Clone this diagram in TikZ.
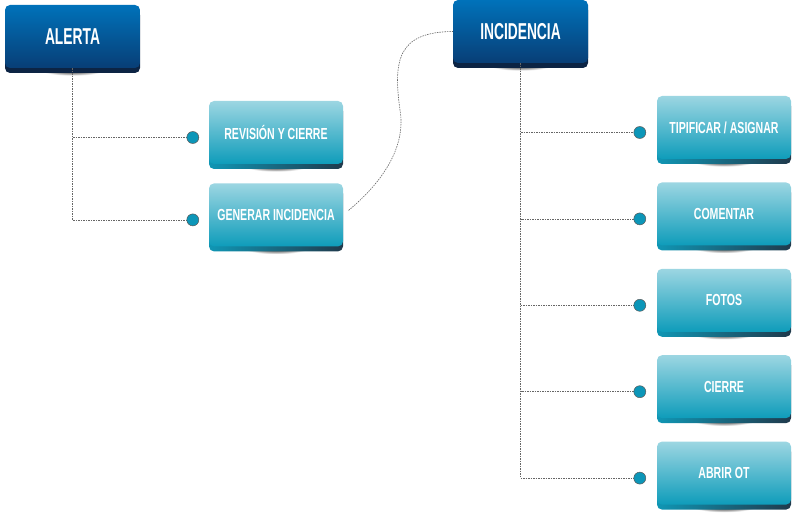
\documentclass[tikz,border=0pt]{standalone}
\usepackage{fontspec}
\newfontfamily\boxfont[FakeStretch=0.66]{Liberation Sans Bold}
\newfontfamily\headfont[FakeStretch=0.6]{Liberation Sans Bold}
\usepackage{tikz}
\usetikzlibrary{positioning,shadows,fadings,calc}

\definecolor{navytop}{RGB}{0,114,186}
\definecolor{navybot}{RGB}{8,62,118}
\definecolor{navylip}{RGB}{12,36,68}
\definecolor{aquatop}{RGB}{156,214,226}
\definecolor{aquabot}{RGB}{14,156,186}
\definecolor{aqualip}{RGB}{16,150,180}
\definecolor{slatelip}{RGB}{32,58,76}
\definecolor{dotfill}{RGB}{12,150,184}

\begin{document}
\begin{tikzpicture}[
				x=1pt, y=-1pt,
				soft/.style={general shadow={fill=black!70, shadow yshift=-12pt, shadow scale=.9, path fading=circle with fuzzy edge 15 percent}},
				topbox/.style={rectangle, rounded corners=5pt, minimum width=135pt, minimum height=63pt, top color=navytop, bottom color=navybot, text=white, font=\headfont\fontsize{23}{23}\selectfont, soft, general shadow={fill=navylip, shadow yshift=-5pt}},
				subbox/.style={rectangle, rounded corners=5pt, minimum width=134pt, minimum height=63pt, top color=aquatop, bottom color=aquabot, text=white, font=\boxfont\fontsize{16}{16}\selectfont, soft, general shadow={left color=aqualip, right color=slatelip, shadow yshift=-5pt}},
				dot/.style={circle, draw=gray!70!black, line width=.5pt, fill=dotfill, minimum size=12pt, inner sep=0pt},
				link/.style={gray!80!black, line width=.6pt, dash pattern=on 1.5pt off 1pt}
				]
				\useasboundingbox (0,0) rectangle (793,516);
				
				\node (alerta) [topbox] at (72.5,36.5) {ALERTA};
				\node (incid) [topbox] at (520.5,31.5) {INCIDENCIA};
				
				\node (revision) [subbox] at (276,132.5) {REVISIÓN Y CIERRE};
				\node (generar) [subbox, below=19pt of revision] {GENERAR INCIDENCIA};
				
				\node (tipificar) [subbox] at (724,127.5) {TIPIFICAR / ASIGNAR};
				\node (comentar) [subbox, below=23pt of tipificar] {COMENTAR};
				\node (fotos) [subbox, below=23pt of comentar] {FOTOS};
				\node (cierre) [subbox, below=23pt of fotos] {CIERRE};
				\node (abrir) [subbox, below=23pt of cierre] {ABRIR OT};
				
				% connectors first, dots on top
				\coordinate (r1) at ($(revision.west)+(-16,5)$);
				\coordinate (r2) at ($(generar.west)+(-16,5)$);
				\draw [link] (alerta.south) |- (r1);
				\draw [link] (alerta.south) |- (r2);
				\draw [link, shorten <=7pt] (generar.east) .. controls (385,180) and (406,145) .. (400,110) .. controls (393,60) and (398,32) .. (incid.west);
				
				\foreach \b/\d in {tipificar/t1, comentar/t2, fotos/t3, cierre/t4, abrir/t5}{
					\coordinate (\d) at ($(\b.west)+(-17,5)$);
					\draw [link] (incid.south) |- (\d);
				}
				
				\node (dr1) [dot] at (r1) {};
				\node (dr2) [dot] at (r2) {};
				\foreach \d in {t1,t2,t3,t4,t5}
					\node (dot\d) [dot] at (\d) {};
			\end{tikzpicture}
\end{document}
